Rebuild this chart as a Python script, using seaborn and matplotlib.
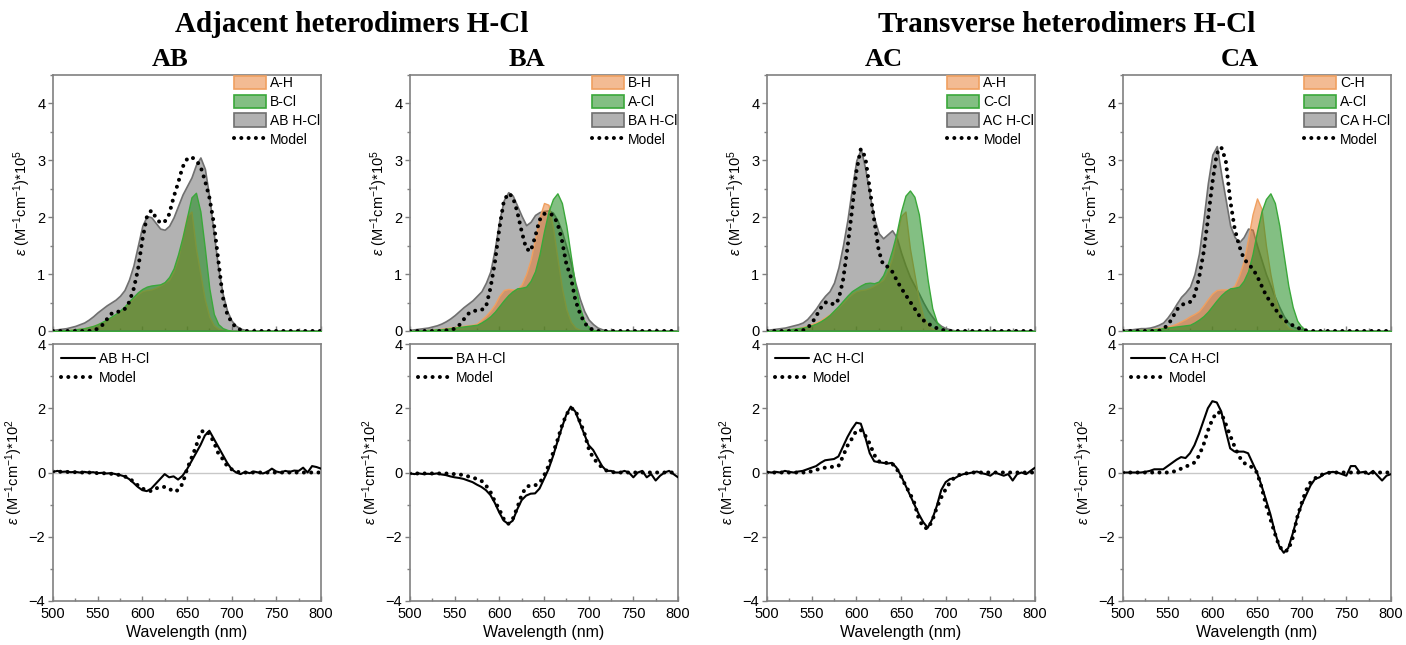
import numpy as np
import pandas as pd
import matplotlib
matplotlib.use("Agg")
import matplotlib.pyplot as plt
import seaborn as sns
from matplotlib.patches import Patch
from matplotlib.lines import Line2D
from matplotlib.colors import to_rgba
from matplotlib.ticker import MultipleLocator

# ---------------- data ----------------
wavelength = list(range(500, 805, 5))  # nm

# monomer absorption spectra (x1e5)
A_H = [0.0, 0.0, 0.01, 0.01, 0.02, 0.03, 0.04, 0.05, 0.07, 0.09,
       0.12, 0.15, 0.19, 0.24, 0.29, 0.35, 0.42, 0.5, 0.58, 0.65,
       0.7, 0.72, 0.73, 0.76, 0.8, 0.85, 0.9, 1.05, 1.28, 1.65,
       2.02, 2.1, 1.45, 1.0, 0.55, 0.25, 0.1, 0.04, 0.02, 0.01,
       0.0] + [0.0] * 20
B_Cl = [0.0, 0.0, 0.01, 0.01, 0.02, 0.03, 0.04, 0.05, 0.07, 0.09,
        0.12, 0.16, 0.2, 0.25, 0.3, 0.36, 0.43, 0.52, 0.6, 0.68,
        0.74, 0.78, 0.8, 0.81, 0.82, 0.86, 0.95, 1.1, 1.35, 1.65,
        2.0, 2.35, 2.43, 2.1, 1.45, 0.75, 0.3, 0.12, 0.05, 0.02,
        0.0] + [0.0] * 20
B_H = [0.0, 0.0, 0.01, 0.01, 0.02, 0.02, 0.03, 0.04, 0.05, 0.06,
       0.07, 0.08, 0.09, 0.1, 0.11, 0.13, 0.2, 0.27, 0.36, 0.47,
       0.62, 0.72, 0.74, 0.73, 0.73, 0.82, 1.0, 1.25, 1.62, 2.0,
       2.25, 2.22, 1.82, 1.28, 0.76, 0.38, 0.16, 0.06, 0.02, 0.01,
       0.0] + [0.0] * 20
A_Cl = [0.0, 0.0, 0.01, 0.01, 0.02, 0.02, 0.03, 0.03, 0.04, 0.05,
        0.06, 0.07, 0.08, 0.09, 0.1, 0.11, 0.15, 0.2, 0.26, 0.34,
        0.44, 0.54, 0.63, 0.7, 0.75, 0.76, 0.78, 0.88, 1.05, 1.35,
        1.75, 2.1, 2.32, 2.42, 2.25, 1.85, 1.32, 0.8, 0.42, 0.18,
        0.07, 0.02, 0.0] + [0.0] * 18
C_Cl = [0.0, 0.0, 0.01, 0.01, 0.02, 0.03, 0.04, 0.05, 0.06, 0.08,
        0.1, 0.13, 0.17, 0.22, 0.28, 0.36, 0.44, 0.53, 0.62, 0.7,
        0.75, 0.8, 0.84, 0.85, 0.84, 0.87, 0.98, 1.17, 1.42, 1.72,
        2.1, 2.38, 2.47, 2.36, 2.05, 1.48, 0.88, 0.4, 0.16, 0.06,
        0.02, 0.0] + [0.0] * 19
C_H = [0.0, 0.0, 0.01, 0.01, 0.02, 0.02, 0.03, 0.04, 0.05, 0.06,
       0.08, 0.1, 0.13, 0.17, 0.21, 0.26, 0.3, 0.35, 0.45, 0.56,
       0.66, 0.72, 0.73, 0.73, 0.74, 0.8, 0.98, 1.22, 1.62, 2.05,
       2.33, 2.15, 1.5, 1.0, 0.6, 0.32, 0.16, 0.06, 0.02, 0.01,
       0.0] + [0.0] * 20

# heterodimer absorption spectra (x1e5)
AB_abs = [0.02, 0.03, 0.04, 0.05, 0.07, 0.09, 0.12, 0.15, 0.2, 0.26,
          0.33, 0.39, 0.45, 0.5, 0.55, 0.62, 0.72, 0.9, 1.15, 1.5,
          1.85, 2.02, 2.0, 1.9, 1.8, 1.78, 1.85, 2.0, 2.2, 2.4,
          2.55, 2.7, 2.92, 3.05, 2.85, 2.35, 1.7, 1.1, 0.65, 0.35,
          0.18, 0.09, 0.04, 0.02, 0.01] + [0.0] * 16
AB_abs_model = [0.0, 0.0, 0.0, 0.0, 0.0, 0.0, 0.0, 0.0, 0.0, 0.01,
                0.04, 0.1, 0.2, 0.3, 0.34, 0.34, 0.38, 0.5, 0.72, 1.07,
                1.6, 2.0, 2.12, 2.0, 1.9, 1.92, 2.05, 2.35, 2.6, 2.88,
                3.02, 3.06, 3.0, 2.9, 2.65, 2.35, 1.9, 1.25, 0.6, 0.3,
                0.15, 0.06, 0.02, 0.0] + [0.0] * 17
BA_abs = [0.02, 0.03, 0.04, 0.05, 0.06, 0.08, 0.1, 0.13, 0.17, 0.22,
          0.28, 0.35, 0.42, 0.48, 0.54, 0.62, 0.7, 0.85, 1.05, 1.45,
          1.95, 2.3, 2.44, 2.38, 2.2, 2.02, 1.86, 1.92, 2.04, 2.09,
          2.11, 2.12, 2.08, 1.95, 1.75, 1.48, 1.2, 0.85, 0.57, 0.35,
          0.2, 0.12, 0.06, 0.03, 0.01] + [0.0] * 16
BA_abs_model = [0.0, 0.0, 0.0, 0.0, 0.0, 0.0, 0.0, 0.0, 0.01, 0.02,
                0.04, 0.1, 0.2, 0.3, 0.35, 0.36, 0.37, 0.42, 0.75, 1.2,
                1.8, 2.28, 2.42, 2.36, 2.1, 1.75, 1.45, 1.4, 1.65, 1.95,
                2.06, 2.06, 2.04, 1.9, 1.6, 1.18, 0.95, 0.55, 0.32, 0.15,
                0.06, 0.02, 0.0] + [0.0] * 18
AC_abs = [0.02, 0.03, 0.04, 0.05, 0.06, 0.08, 0.1, 0.12, 0.15, 0.21,
          0.3, 0.4, 0.52, 0.62, 0.7, 0.85, 1.12, 1.5, 1.95, 2.5,
          3.0, 3.2, 2.85, 2.38, 1.98, 1.72, 1.63, 1.7, 1.77, 1.65,
          1.38, 1.15, 0.95, 0.8, 0.66, 0.5, 0.36, 0.25, 0.15, 0.09,
          0.05, 0.03, 0.01] + [0.0] * 18
AC_abs_model = [0.0, 0.0, 0.0, 0.0, 0.0, 0.0, 0.0, 0.0, 0.01, 0.05,
                0.13, 0.26, 0.4, 0.5, 0.51, 0.46, 0.55, 0.88, 1.45, 2.1,
                2.8, 3.2, 3.06, 2.5, 1.95, 1.42, 1.16, 1.13, 1.05, 0.9,
                0.76, 0.64, 0.52, 0.4, 0.28, 0.19, 0.13, 0.09, 0.05, 0.02,
                0.01, 0.0] + [0.0] * 19
CA_abs = [0.02, 0.03, 0.03, 0.04, 0.05, 0.05, 0.06, 0.08, 0.11, 0.15,
          0.24, 0.35, 0.48, 0.6, 0.68, 0.78, 1.0, 1.36, 1.95, 2.6,
          3.1, 3.25, 2.75, 2.3, 1.85, 1.65, 1.56, 1.65, 1.8, 1.78,
          1.5, 1.25, 1.0, 0.8, 0.6, 0.42, 0.26, 0.15, 0.08, 0.05,
          0.03, 0.01] + [0.0] * 19
CA_abs_model = [0.0, 0.0, 0.0, 0.0, 0.0, 0.0, 0.0, 0.0, 0.0, 0.04,
                0.1, 0.22, 0.37, 0.45, 0.49, 0.51, 0.62, 0.92, 1.36, 1.95,
                2.6, 3.12, 3.23, 3.0, 2.3, 1.8, 1.5, 1.28, 1.18, 1.1,
                0.97, 0.8, 0.63, 0.51, 0.4, 0.28, 0.2, 0.14, 0.1, 0.06,
                0.03, 0.01, 0.0] + [0.0] * 18

# heterodimer CD spectra (x1e2)
AB_cd = [0.02, 0.05, 0.02, 0.03, 0.01, 0.02, 0.0, 0.02, 0.0, 0.01,
         -0.02, -0.01, -0.03, -0.02, -0.05, -0.08, -0.12, -0.2, -0.32, -0.45,
         -0.55, -0.58, -0.5, -0.35, -0.2, -0.05, -0.15, -0.12, -0.22, -0.1,
         0.1, 0.35, 0.6, 0.85, 1.15, 1.3, 1.05, 0.8, 0.55, 0.3,
         0.1, 0.0, -0.05, 0.02, -0.02, 0.03, 0.0, -0.03, 0.02, 0.12,
         0.03, 0.0, 0.05, 0.02, 0.06, 0.05, 0.15, 0.0, 0.2, 0.17,
         0.12]
AB_cd_model = [0.03, 0.03, 0.02, 0.02, 0.01, 0.01, 0.0, 0.0, 0.0, -0.01,
               -0.02, -0.02, -0.03, -0.04, -0.06, -0.08, -0.12, -0.18, -0.28, -0.4,
               -0.5, -0.55, -0.58, -0.5, -0.45, -0.45, -0.5, -0.6, -0.55, -0.35,
               0.1, 0.45, 0.8, 1.25, 1.32, 1.2, 0.95, 0.6, 0.42, 0.2,
               0.1, 0.03, 0.0] + [0.0] * 18
BA_cd = [-0.03, -0.05, -0.03, -0.05, -0.04, -0.05, -0.03, -0.06, -0.08, -0.12,
         -0.15, -0.17, -0.2, -0.25, -0.3, -0.38, -0.45, -0.55, -0.7, -0.95,
         -1.25, -1.5, -1.6, -1.5, -1.15, -0.86, -0.72, -0.66, -0.65, -0.5,
         -0.2, 0.1, 0.5, 0.95, 1.4, 1.8, 2.05, 1.9, 1.55, 1.2,
         0.85, 0.7, 0.45, 0.2, 0.05, 0.05, 0.0, 0.0, 0.05, 0.0,
         -0.15, 0.0, 0.05, -0.15, -0.05, -0.25, -0.1, 0.0, 0.05, -0.05,
         -0.15]
BA_cd_model = [-0.03, -0.03, -0.03, -0.03, -0.03, -0.03, -0.03, -0.03, -0.03, -0.04,
               -0.05, -0.06, -0.08, -0.12, -0.16, -0.2, -0.26, -0.4, -0.6, -0.9,
               -1.15, -1.45, -1.6, -1.45, -1.1, -0.7, -0.45, -0.4, -0.4, -0.33,
               -0.1, 0.2, 0.6, 1.0, 1.45, 1.8, 2.0, 1.95, 1.6, 1.25,
               0.75, 0.45, 0.3, 0.15, 0.06, 0.02, 0.0] + [0.0] * 14
AC_cd = [0.02, 0.0, 0.02, 0.0, 0.05, 0.02, 0.0, 0.03, 0.05, 0.1,
         0.15, 0.2, 0.3, 0.38, 0.4, 0.42, 0.5, 0.8, 1.1, 1.35,
         1.55, 1.52, 1.1, 0.6, 0.35, 0.32, 0.3, 0.28, 0.3, 0.15,
         -0.1, -0.4, -0.7, -1.0, -1.3, -1.55, -1.72, -1.45, -1.05, -0.55,
         -0.3, -0.2, -0.18, -0.1, -0.05, -0.03, 0.0, 0.03, -0.02, -0.05,
         -0.1, 0.0, -0.05, -0.1, -0.05, -0.25, -0.05, 0.0, -0.05, 0.05,
         0.15]
AC_cd_model = [0.0, 0.0, 0.0, 0.0, 0.0, 0.0, 0.0, 0.0, 0.0, 0.0,
               0.04, 0.08, 0.12, 0.15, 0.17, 0.18, 0.2, 0.5, 0.83, 1.05,
               1.3, 1.32, 1.15, 0.9, 0.55, 0.35, 0.3, 0.3, 0.28, 0.12,
               -0.12, -0.4, -0.65, -0.95, -1.45, -1.7, -1.75, -1.5, -1.1, -0.78,
               -0.52, -0.3, -0.15, -0.08, -0.04, -0.02, 0.0] + [0.0] * 14
CA_cd = [0.0, 0.0, 0.0, 0.0, 0.0, 0.02, 0.05, 0.1, 0.1, 0.1,
         0.2, 0.3, 0.4, 0.48, 0.45, 0.6, 0.85, 1.2, 1.6, 2.0,
         2.22, 2.18, 1.9, 1.3, 0.75, 0.65, 0.65, 0.65, 0.6, 0.3,
         0.0, -0.4, -0.85, -1.3, -1.85, -2.3, -2.5, -2.35, -1.9, -1.4,
         -1.0, -0.7, -0.4, -0.2, -0.15, -0.05, 0.0, 0.02, 0.0, -0.05,
         -0.1, 0.2, 0.2, 0.0, 0.02, -0.05, 0.05, -0.1, -0.25, -0.1,
         -0.05]
CA_cd_model = [0.0, 0.0, 0.0, 0.0, 0.0, 0.0, 0.0, 0.0, 0.0, 0.0,
               0.0, 0.02, 0.05, 0.12, 0.18, 0.24, 0.31, 0.52, 0.85, 1.3,
               1.65, 1.88, 1.85, 1.51, 1.15, 0.8, 0.5, 0.3, 0.24, 0.15,
               0.0, -0.45, -1.0, -1.45, -1.9, -2.3, -2.45, -2.42, -2.03, -1.4,
               -0.95, -0.55, -0.3, -0.18, -0.1, -0.04, -0.01, 0.0] + [0.0] * 13

panels = [
    # name, H label, H data, Cl label, Cl data, dimer abs, model abs, cd, cd model
    ("AB", "A-H", A_H, "B-Cl", B_Cl, AB_abs, AB_abs_model, AB_cd, AB_cd_model),
    ("BA", "B-H", B_H, "A-Cl", A_Cl, BA_abs, BA_abs_model, BA_cd, BA_cd_model),
    ("AC", "A-H", A_H, "C-Cl", C_Cl, AC_abs, AC_abs_model, AC_cd, AC_cd_model),
    ("CA", "C-H", C_H, "A-Cl", A_Cl, CA_abs, CA_abs_model, CA_cd, CA_cd_model),
]

group_titles = ["Adjacent heterodimers H-Cl", "Transverse heterodimers H-Cl"]

# ---------------- style ----------------
sns.set_style("white")
plt.rcParams["font.family"] = ["Liberation Sans", "DejaVu Sans"]
plt.rcParams["mathtext.fontset"] = "custom"
plt.rcParams["mathtext.rm"] = "Liberation Sans"
plt.rcParams["mathtext.it"] = "Liberation Sans:italic"
plt.rcParams["mathtext.bf"] = "Liberation Sans:bold"
plt.rcParams["text.color"] = "black"
plt.rcParams["axes.labelcolor"] = "black"

W, H = 1406, 645
fig = plt.figure(figsize=(W / 100, H / 100), dpi=100)

spine_col = "#808080"
c_gray = "#555555"
c_orange = "#e87828"
c_green = "#1e8c1e"
a_gray, a_orange, a_green = 0.45, 0.5, 0.55
edge_gray = "#707070"
edge_orange = "#f0a060"
edge_green = "#3aa83a"

dot_style = dict(color="black", lw=2.9, linestyle=(0, (0.01, 1.8)),
                 dash_capstyle="round")

lefts = [53, 410, 767, 1123]
pw = 268


def px_axes(left, top, bottom):
    return [left / W, (H - bottom) / H, pw / W, (bottom - top) / H]


def style_axes(ax):
    for s in ax.spines.values():
        s.set_color(spine_col)
        s.set_linewidth(1.2)
        s.set_visible(True)
    ax.tick_params(axis="y", which="major", direction="out", length=3.5,
                   width=1, color=spine_col, labelcolor="black",
                   labelsize=10.5, pad=2, left=True)
    ax.tick_params(axis="y", which="minor", direction="out", length=2,
                   width=1, color=spine_col, left=True)
    ax.tick_params(axis="x", which="major", direction="in", length=3.5,
                   width=1, color=spine_col, labelcolor="black",
                   labelsize=10.5, pad=4, bottom=True)
    ax.tick_params(axis="x", which="minor", direction="in", length=2,
                   width=1, color=spine_col, bottom=True)
    ax.xaxis.set_major_locator(MultipleLocator(50))
    ax.xaxis.set_minor_locator(MultipleLocator(25))
    ax.set_xlim(500, 800)
    ax.grid(False)


for i, (name, hlab, hdat, cllab, cldat, dab, dmod, cd, cdmod) in enumerate(panels):
    df = pd.DataFrame({"wl": wavelength, "h": hdat, "cl": cldat,
                       "dimer": dab, "model": dmod, "cd": cd, "cdm": cdmod})

    # ---- top: absorption ----
    ax = fig.add_axes(px_axes(lefts[i], 75, 331))
    ax.fill_between(df["wl"], 0, df["dimer"], facecolor=to_rgba(c_gray, a_gray),
                    edgecolor=edge_gray, lw=1.2, zorder=1)
    ax.fill_between(df["wl"], 0, df["h"], facecolor=to_rgba(c_orange, a_orange),
                    edgecolor=edge_orange, lw=1.0, zorder=2)
    ax.fill_between(df["wl"], 0, df["cl"], facecolor=to_rgba(c_green, a_green),
                    edgecolor=edge_green, lw=1.0, zorder=3)
    sns.lineplot(data=df, x="wl", y="model", ax=ax, zorder=4, **dot_style)
    style_axes(ax)
    ax.set_ylim(0, 4.5)
    ax.yaxis.set_major_locator(MultipleLocator(1))
    ax.yaxis.set_minor_locator(MultipleLocator(0.5))
    ax.set_xticklabels([])
    ax.set_xlabel("")
    ax.set_ylabel(r"$\varepsilon$ (M$^{-1}$cm$^{-1}$)*10$^{5}$", fontsize=10.5,
                  labelpad=3)
    handles = [
        Patch(facecolor=to_rgba(c_orange, a_orange), edgecolor=edge_orange, lw=1.2),
        Patch(facecolor=to_rgba(c_green, a_green), edgecolor=edge_green, lw=1.2),
        Patch(facecolor=to_rgba(c_gray, a_gray), edgecolor=edge_gray, lw=1.2),
        Line2D([], [], **dot_style),
    ]
    ax.legend(handles, [hlab, cllab, f"{name} H-Cl", "Model"], loc="upper right",
              frameon=False, fontsize=10, handlelength=2.3, handleheight=1.1,
              handletextpad=0.3, labelspacing=0.32, borderaxespad=0.0,
              borderpad=0.05)

    # ---- bottom: CD ----
    bx = fig.add_axes(px_axes(lefts[i], 344, 601))
    bx.axhline(0, color="#c8c8c8", lw=1.0, zorder=0)
    sns.lineplot(data=df, x="wl", y="cd", ax=bx, color="black", lw=1.5,
                 zorder=3)
    sns.lineplot(data=df, x="wl", y="cdm", ax=bx, zorder=2, **dot_style)
    style_axes(bx)
    bx.set_ylim(-4, 4)
    bx.yaxis.set_major_locator(MultipleLocator(2))
    bx.yaxis.set_minor_locator(MultipleLocator(1))
    bx.set_xlabel("Wavelength (nm)", fontsize=11.5, labelpad=3)
    bx.set_ylabel(r"$\varepsilon$ (M$^{-1}$cm$^{-1}$)*10$^{2}$", fontsize=10.5,
                  labelpad=3)
    bh = [Line2D([], [], color="black", lw=1.5), Line2D([], [], **dot_style)]
    bx.legend(bh, [f"{name} H-Cl", "Model"], loc="upper left", frameon=False,
              fontsize=10, handlelength=2.4, handletextpad=0.3,
              labelspacing=0.3, borderaxespad=0.4, borderpad=0.2)

    # panel subtitle
    fig.text((lefts[i] + pw / 2 - 17) / W, 1 - 66 / H, name,
             family="Liberation Serif", weight="bold", fontsize=19,
             color="black", ha="center", va="baseline")

# group titles
fig.text(352 / W, 1 - 32 / H, group_titles[0], family="Liberation Serif",
         weight="bold", fontsize=21, color="black", ha="center", va="baseline")
fig.text(1067 / W, 1 - 32 / H, group_titles[1], family="Liberation Serif",
         weight="bold", fontsize=21, color="black", ha="center", va="baseline")

fig.savefig("out.png", dpi=100)
